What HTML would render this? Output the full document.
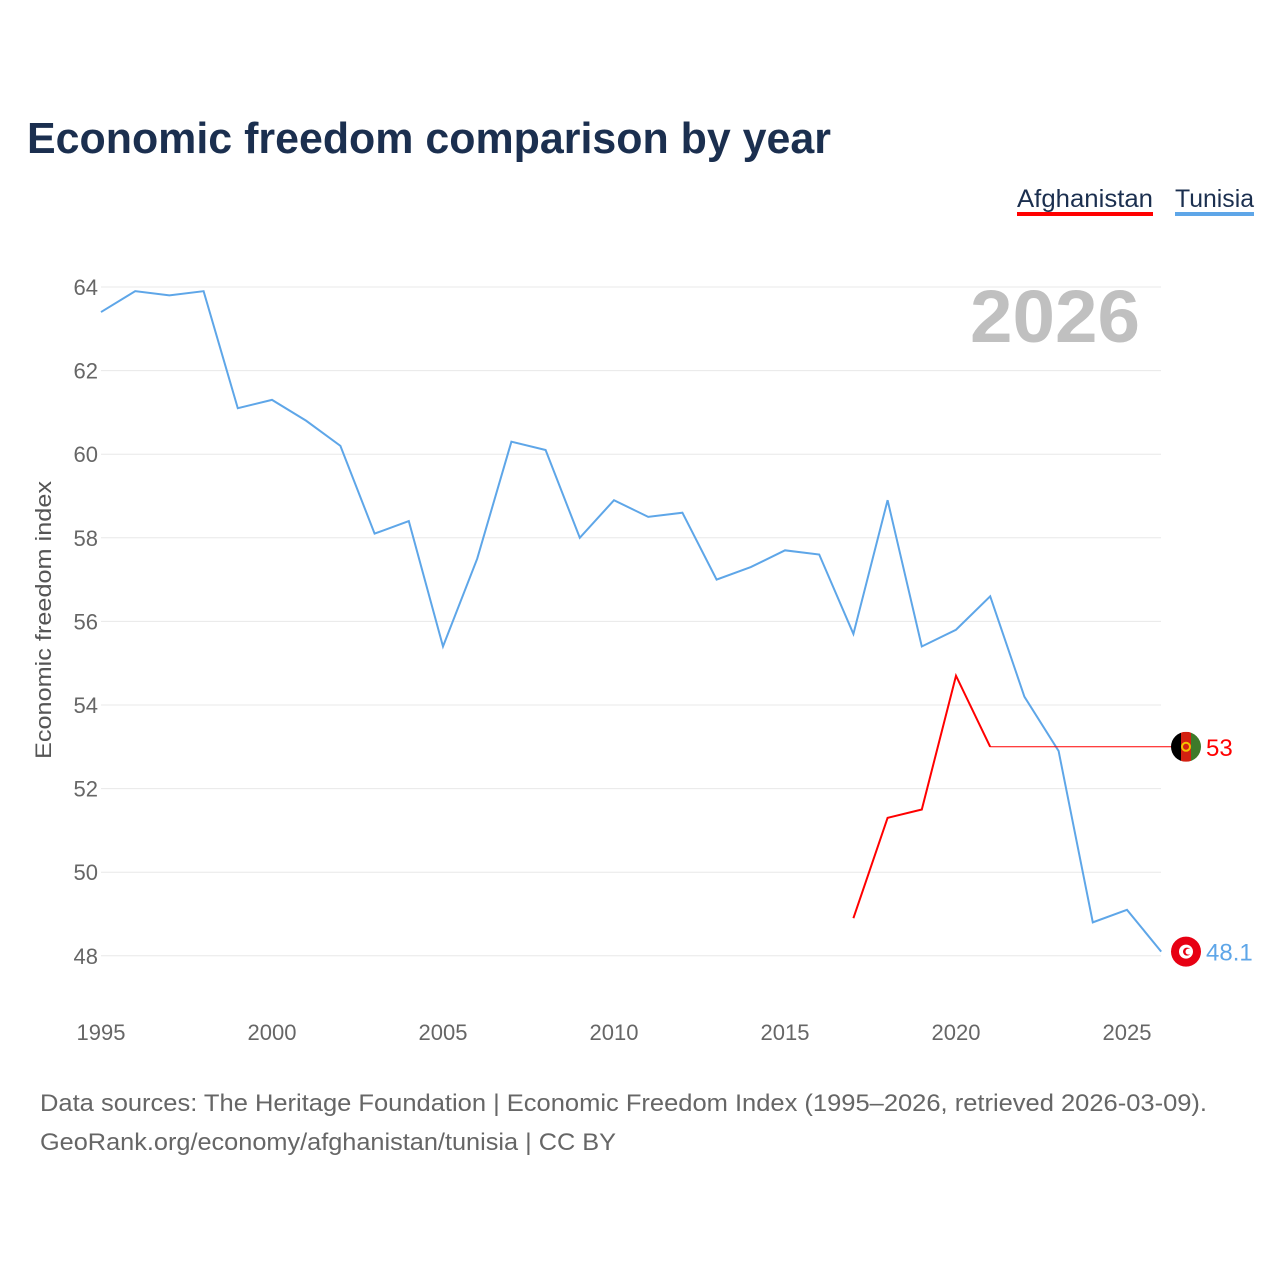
<!DOCTYPE html>
<html><head><meta charset="utf-8"><style>
body{margin:0;background:#fff;font-family:"Liberation Sans",sans-serif;}
#wrap{position:relative;width:1280px;height:1280px;overflow:hidden;}
</style></head><body>
<div id="wrap">
<svg id="svg" width="1280" height="1280">
<text x="27" y="153" font-size="44" font-weight="bold" fill="#1b2f4f" textLength="804" lengthAdjust="spacingAndGlyphs">Economic freedom comparison by year</text>
<g><text x="1017" y="207" font-size="25" fill="#1b2f4f" textLength="136" lengthAdjust="spacingAndGlyphs">Afghanistan</text><rect x="1017" y="212" width="136" height="4" fill="#ff0000"/></g>
<g><text x="1175" y="207" font-size="25" fill="#1b2f4f" textLength="79" lengthAdjust="spacingAndGlyphs">Tunisia</text><rect x="1175" y="212" width="79" height="4" fill="#5ea6e8"/></g>
<text x="1140" y="342" text-anchor="end" font-size="74" font-weight="bold" fill="#c0c0c0" textLength="170" lengthAdjust="spacingAndGlyphs">2026</text>
<g id="grid"></g><g id="lines"></g>
<text transform="translate(51,620) rotate(-90)" text-anchor="middle" font-size="22" fill="#555" textLength="278" lengthAdjust="spacingAndGlyphs">Economic freedom index</text>
<text x="40" y="1111" font-size="24" fill="#666" textLength="1167" lengthAdjust="spacingAndGlyphs">Data sources: The Heritage Foundation | Economic Freedom Index (1995–2026, retrieved 2026-03-09).</text>
<text x="40" y="1150" font-size="24" fill="#666" textLength="576" lengthAdjust="spacingAndGlyphs">GeoRank.org/economy/afghanistan/tunisia | CC BY</text>
</svg></div>
<script>
const years=[1995,1996,1997,1998,1999,2000,2001,2002,2003,2004,2005,2006,2007,2008,2009,2010,2011,2012,2013,2014,2015,2016,2017,2018,2019,2020,2021,2022,2023,2024,2025,2026];
const tunisia=[63.4,63.9,63.8,63.9,61.1,61.3,60.8,60.2,58.1,58.4,55.4,57.5,60.3,60.1,58.0,58.9,58.5,58.6,57.0,57.3,57.7,57.6,55.7,58.9,55.4,55.8,56.6,54.2,52.9,48.8,49.1,48.1];
const afgYears=[2017,2018,2019,2020,2021];
const afghanistan=[48.9,51.3,51.5,54.7,53.0];
const yTicks=[48,50,52,54,56,58,60,62,64];
const xTicks=[1995,2000,2005,2010,2015,2020,2025];
const NS="http://www.w3.org/2000/svg";
const X=y=>101+(y-1995)*34.2;
const Y=v=>287+(64-v)*41.8;
function mk(t,a,p){const e=document.createElementNS(NS,t);for(const k in a)e.setAttribute(k,a[k]);p.appendChild(e);return e;}
const g=document.getElementById('grid'),L=document.getElementById('lines');
yTicks.forEach(v=>{
 const l=mk('line',{x1:101,x2:1161,y1:Y(v),y2:Y(v),stroke:'#e8e8e8','stroke-width':1},g);
 
 
 const t=mk('text',{x:98,y:Y(v)+8,'text-anchor':'end','font-size':22,fill:'#666'},g);t.textContent=v;
 
 
});
xTicks.forEach(v=>{
 const t=mk('text',{x:X(v),y:1040,'text-anchor':'middle','font-size':22,fill:'#666'},g);t.textContent=v;
 
 
});
const p1=mk('polyline',{points:years.map((y,i)=>X(y)+','+Y(tunisia[i])).join(' '),fill:'none',stroke:'#5ea6e8','stroke-width':2},L);


const p2=mk('polyline',{points:afgYears.map((y,i)=>X(y)+','+Y(afghanistan[i])).join(' '),fill:'none',stroke:'#ff0000','stroke-width':2},L);


const lastA=afghanistan[afghanistan.length-1];
const ay=Y(lastA),ty=Y(tunisia[tunisia.length-1]);
const ext=mk('line',{x1:X(afgYears[afgYears.length-1]),x2:1172,y1:ay,y2:ay,stroke:'#ff0000','stroke-width':1},L);


const fa=mk('g',{},L);


const cp=mk('clipPath',{id:'ca'},fa);
mk('circle',{cx:1186,cy:ay,r:15},cp);
const ga=mk('g',{'clip-path':'url(#ca)'},fa);
mk('rect',{x:1171,y:ay-15,width:10,height:30,fill:'#000'},ga);
mk('rect',{x:1181,y:ay-15,width:10,height:30,fill:'#d32011'},ga);
mk('rect',{x:1191,y:ay-15,width:10,height:30,fill:'#3e7a2a'},ga);
mk('circle',{cx:1186,cy:ay,r:4,fill:'none',stroke:'#f2c200','stroke-width':2},ga);
const ta=mk('text',{x:1206,y:ay+9,'font-size':24,fill:'#ff0000'},L);ta.textContent=lastA;


const ft=mk('g',{},L);


mk('circle',{cx:1186,cy:ty,r:15,fill:'#e70013'},ft);
mk('circle',{cx:1186,cy:ty,r:7,fill:'#fff'},ft);
mk('circle',{cx:1187,cy:ty,r:4,fill:'#e70013'},ft);
mk('circle',{cx:1188.5,cy:ty,r:3,fill:'#fff'},ft);
const tt=mk('text',{x:1206,y:ty+9,'font-size':24,fill:'#5ea6e8'},L);tt.textContent=tunisia[tunisia.length-1];


</script>
</body></html>
